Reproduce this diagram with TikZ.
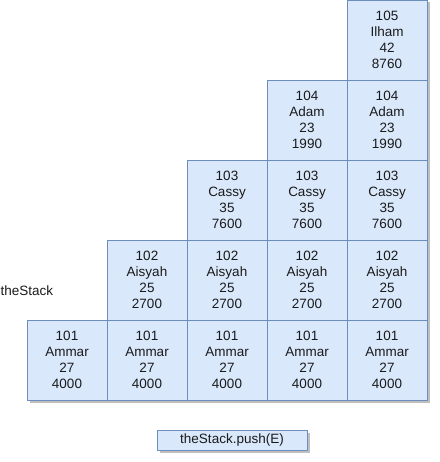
\documentclass[tikz,border=0pt]{standalone}
\usepackage{fontspec}
\setmainfont{Liberation Sans}
\usetikzlibrary{shadows}
\definecolor{cellfill}{HTML}{DAE8FC}
\definecolor{celldraw}{HTML}{6C8EBF}
\definecolor{celltext}{HTML}{1A1A1A}
\tikzset{
	cell/.style={draw=celldraw, fill=cellfill, line width=0.9pt, text=celltext,
		minimum width=80pt, minimum height=80pt, inner sep=0pt, align=center,
		font=\fontsize{13.5}{16}\selectfont,
		drop shadow={shadow xshift=2.5pt, shadow yshift=-2.5pt, opacity=0.25, fill=black}},
	lbl/.style={text=celltext, inner sep=0pt, font=\fontsize{13.5}{16}\selectfont}
}
\begin{document}
\begin{tikzpicture}[x=1pt,y=-1pt]
		\useasboundingbox (0,0) rectangle (439,462);
		\begin{scope}
			% stack snapshots, one column per push
			\foreach \i/\id/\nm/\age/\sal in {5/105/Ilham/42/8760,4/104/Adam/23/1990,3/103/Cassy/35/7600,2/102/Aisyah/25/2700,1/101/Ammar/27/4000}
			{
				\foreach \j in {\i,...,5}
				{
					\node[cell] (c-\j-\i) at ({67+80*(\j-1)},{360-80*(\i-1)}) {\id\\\nm\\\age\\\sal};
				}
			}
		\end{scope}
		\node[lbl, anchor=west] (stackname) at (0.5,291) {theStack};
		\node[cell, minimum width=150pt, minimum height=20pt] (push) at (232,440) {theStack.push(E)};
\end{tikzpicture}
\end{document}
